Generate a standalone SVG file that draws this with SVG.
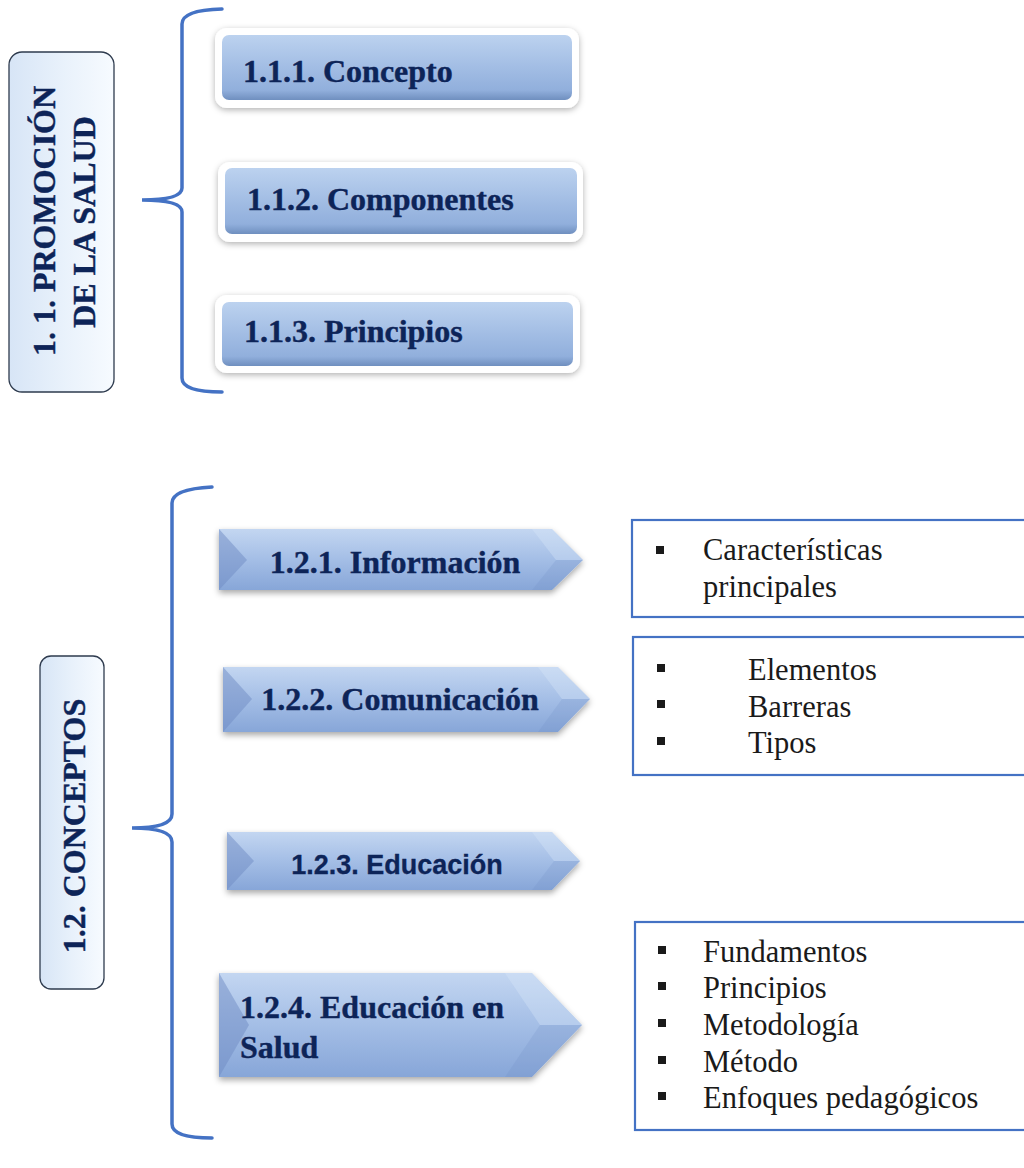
<svg xmlns="http://www.w3.org/2000/svg" width="1024" height="1168" viewBox="0 0 1024 1168">
<defs>
<linearGradient id="gVert" x1="0" y1="0" x2="1" y2="0">
<stop offset="0" stop-color="#d7e5f6"/><stop offset="0.5" stop-color="#e8f1fb"/><stop offset="1" stop-color="#f7fbff"/>
</linearGradient>
<linearGradient id="gBtn" x1="0" y1="0" x2="0" y2="1">
<stop offset="0" stop-color="#bcd2ef"/><stop offset="0.5" stop-color="#a2bde4"/><stop offset="0.85" stop-color="#91afdc"/><stop offset="1" stop-color="#6f8fbf"/>
</linearGradient>
<linearGradient id="gArr" x1="0" y1="0" x2="0" y2="1">
<stop offset="0" stop-color="#c3d6f1"/><stop offset="0.5" stop-color="#a4bee6"/><stop offset="1" stop-color="#87a6d8"/>
</linearGradient>
<filter id="sh" x="-10%" y="-20%" width="120%" height="150%">
<feDropShadow dx="0" dy="3" stdDeviation="3" flood-color="#000" flood-opacity="0.35"/>
</filter>
<filter id="glow" x="-10%" y="-20%" width="120%" height="150%">
<feDropShadow dx="0" dy="2" stdDeviation="3" flood-color="#000" flood-opacity="0.3"/>
</filter>
</defs>
<style>
.brace{fill:none;stroke:#4472c4;stroke-width:3.5;stroke-linecap:round}
.vbox{fill:url(#gVert);stroke:#2e3b4e;stroke-width:1.3}
.frame{fill:#ffffff;filter:url(#glow)}
.btn{fill:url(#gBtn)}
.arr{fill:url(#gArr);filter:url(#sh)}
.facL{fill:#6f8cc4;opacity:0.5}
.facU{fill:#dbe7f8;opacity:0.35}
.facD{fill:#6f8cc4;opacity:0.2}
.tb{font-family:"Liberation Serif","Times New Roman",serif;font-weight:bold;font-size:32px;fill:#0d2458;stroke:#0d2458;stroke-width:0.4}
.ts{font-family:"Liberation Sans",Arial,sans-serif;font-weight:bold;font-size:27px;fill:#0d2458;stroke:#0d2458;stroke-width:0.3}
.list{fill:#ffffff;stroke:#4472c4;stroke-width:2.2}
.li{font-family:"Liberation Serif","Times New Roman",serif;font-size:30.5px;fill:#1a1a1a}
.bul{fill:#1a1a1a}
</style>

<g id="connectors">
<path class="brace" d="M222,9 Q182,10 182,24 L182,188 Q182,200 142,200 Q182,200 182,212 L182,378 Q182,392 222,392"/>
<path class="brace" d="M212,487 Q172,489 172,503 L172,814 Q172,828 132,828 Q172,828 172,842 L172,1124 Q172,1138 212,1138"/>
</g>

<g id="n11">
<rect class="vbox" x="9" y="52" width="105" height="340" rx="13"/>
<text class="tb" text-anchor="middle" transform="translate(55,221) rotate(-90)">1. 1. PROMOCIÓN</text>
<text class="tb" text-anchor="middle" transform="translate(95,222) rotate(-90)">DE LA SALUD</text>
</g>

<g id="n111">
<rect class="frame" x="215" y="28" width="364" height="80" rx="12"/>
<rect class="btn" x="222" y="35" width="350" height="65" rx="7"/>
<text class="tb" x="243" y="82">1.1.1. Concepto</text>
</g>
<g id="n112">
<rect class="frame" x="218" y="162" width="365" height="80" rx="12"/>
<rect class="btn" x="225" y="168" width="352" height="66" rx="7"/>
<text class="tb" x="247" y="210">1.1.2. Componentes</text>
</g>
<g id="n113">
<rect class="frame" x="215" y="295" width="365" height="78" rx="12"/>
<rect class="btn" x="222" y="302" width="351" height="64" rx="7"/>
<text class="tb" x="244" y="342">1.1.3. Principios</text>
</g>

<g id="n12">
<rect class="vbox" x="40" y="656" width="64" height="333" rx="11"/>
<text class="tb" text-anchor="middle" transform="translate(85,826) rotate(-90)">1.2.  CONCEPTOS</text>
</g>

<g id="n121">
<polygon class="arr" points="219,529 552,529 583,560 552,590 219,590"/>
<polygon class="facL" points="219,529 247,560 219,590"/>
<polygon class="facU" points="532,529 552,529 583,560 556,560"/>
<polygon class="facD" points="556,560 583,560 552,590 532,590"/>
<text class="tb" x="395" y="573" text-anchor="middle">1.2.1. Información</text>
</g>
<g id="n122">
<polygon class="arr" points="223,667 558,667 590,699 558,732 223,732"/>
<polygon class="facL" points="223,667 252,699 223,732"/>
<polygon class="facU" points="538,667 558,667 590,699 562,699"/>
<polygon class="facD" points="562,699 590,699 558,732 538,732"/>
<text class="tb" x="400" y="710" text-anchor="middle">1.2.2. Comunicación</text>
</g>
<g id="n123">
<polygon class="arr" points="227,832 552,832 580,861 552,890 227,890"/>
<polygon class="facL" points="227,832 254,861 227,890"/>
<polygon class="facU" points="532,832 552,832 580,861 554,861"/>
<polygon class="facD" points="554,861 580,861 552,890 532,890"/>
<text class="ts" x="397" y="874" text-anchor="middle">1.2.3. Educación</text>
</g>
<g id="n124">
<polygon class="arr" points="219,973 532,973 582,1025 532,1077 219,1077"/>
<polygon class="facL" points="219,973 249,1025 219,1077"/>
<polygon class="facU" points="505,973 532,973 582,1025 540,1025"/>
<polygon class="facD" points="540,1025 582,1025 532,1077 505,1077"/>
<text class="tb" x="240" y="1018">1.2.4. Educación en</text>
<text class="tb" x="240" y="1058">Salud</text>
</g>

<g id="lA">
<rect class="list" x="632" y="520" width="400" height="97"/>
<rect class="bul" x="656" y="546" width="8" height="8"/>
<text class="li" x="703" y="560">Características</text>
<text class="li" x="703" y="597">principales</text>
</g>
<g id="lB">
<rect class="list" x="633" y="637" width="400" height="138"/>
<rect class="bul" x="657" y="664" width="8" height="8"/>
<rect class="bul" x="657" y="700" width="8" height="8"/>
<rect class="bul" x="657" y="737" width="8" height="8"/>
<text class="li" x="748" y="680">Elementos</text>
<text class="li" x="748" y="717">Barreras</text>
<text class="li" x="748" y="753">Tipos</text>
</g>
<g id="lC">
<rect class="list" x="635" y="922" width="400" height="208"/>
<rect class="bul" x="658" y="946" width="8" height="8"/>
<rect class="bul" x="658" y="982" width="8" height="8"/>
<rect class="bul" x="658" y="1019" width="8" height="8"/>
<rect class="bul" x="658" y="1056" width="8" height="8"/>
<rect class="bul" x="658" y="1092" width="8" height="8"/>
<text class="li" x="703" y="962">Fundamentos</text>
<text class="li" x="703" y="998">Principios</text>
<text class="li" x="703" y="1035">Metodología</text>
<text class="li" x="703" y="1072">Método</text>
<text class="li" x="703" y="1108">Enfoques pedagógicos</text>
</g>
</svg>
